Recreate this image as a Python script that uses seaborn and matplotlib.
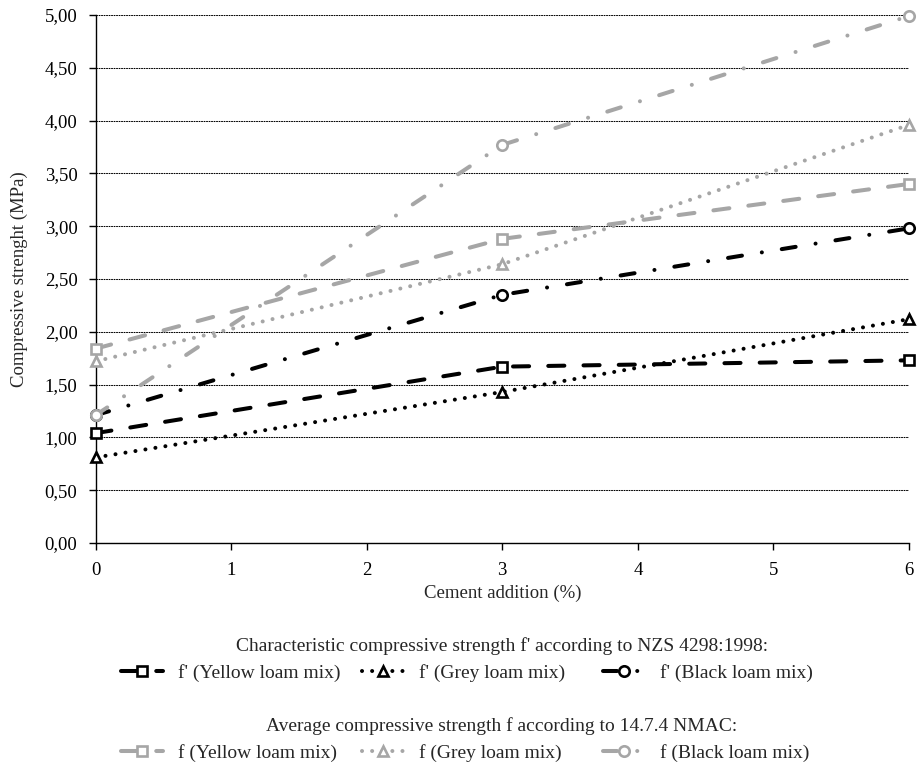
import matplotlib
matplotlib.use("Agg")
import matplotlib.pyplot as plt
from matplotlib.ticker import FuncFormatter, MultipleLocator
import seaborn as sns
import pandas as pd

# Cement content (%) and compressive strength (MPa)
cement = [0, 3, 6]

fk_yellow = [1.04, 1.67, 1.73]
fk_grey = [0.81, 1.43, 2.12]
fk_black = [1.21, 2.35, 2.98]

fa_yellow = [1.84, 2.88, 3.40]
fa_grey = [1.72, 2.64, 3.96]
fa_black = [1.21, 3.77, 4.99]

labels_k = ["f' (Yellow loam mix)", "f' (Grey loam mix)", "f' (Black loam mix)"]
labels_a = ["f (Yellow loam mix)", "f (Grey loam mix)", "f (Black loam mix)"]
title_k = "Characteristic compressive strength f' according to NZS 4298:1998:"
title_a = "Average compressive strength f according to 14.7.4 NMAC:"

sns.set_style("ticks")
plt.rcParams["font.family"] = ["Liberation Serif", "DejaVu Serif"]
plt.rcParams["lines.dash_capstyle"] = "round"
plt.rcParams["lines.solid_capstyle"] = "round"

W, H = 917, 778
fig = plt.figure(figsize=(W / 100, H / 100), dpi=100)
ax = fig.add_axes([95.5 / W, 1 - 543 / H, (909 - 95.5) / W, (543 - 15) / H])

GREY = "#a6a6a6"
BLACK = "#000000"
LW = 2.9

# line patterns in units of line width
DASH = (0, (4.0, 4.75))
DOT = (0, (0.01, 2.5))
DASHDOT = (0, (3.5, 5.0, 0.01, 5.0))

series = [
    (fk_black, BLACK, "o", DASHDOT, labels_k[2]),
    (fk_grey, BLACK, "^", DOT, labels_k[1]),
    (fk_yellow, BLACK, "s", DASH, labels_k[0]),
    (fa_black, GREY, "o", DASHDOT, labels_a[2]),
    (fa_grey, GREY, "^", DOT, labels_a[1]),
    (fa_yellow, GREY, "s", DASH, labels_a[0]),
]

handles = {}
for vals, col, mk, ls, lab in series:
    df = pd.DataFrame({"cement": cement, "strength": vals})
    n_before = len(ax.lines)
    sns.lineplot(data=df, x="cement", y="strength", ax=ax, color=col,
                 marker=mk, markersize=7.5, markerfacecolor="white",
                 markeredgecolor=col, markeredgewidth=1.9, linewidth=LW,
                 linestyle=ls, clip_on=False, zorder=3)
    handles[lab] = ax.lines[n_before]

ax.set_xlim(0, 6)
ax.set_ylim(0, 5)
ax.xaxis.set_major_locator(MultipleLocator(1))
ax.yaxis.set_major_locator(MultipleLocator(0.5))
ax.yaxis.set_major_formatter(FuncFormatter(lambda v, p: f"{v:.2f}".replace(".", ",")))
ax.yaxis.grid(True, linestyle=(0, (1.0, 1.4)), color="black", linewidth=0.75)
ax.set_axisbelow(True)
sns.despine(ax=ax)
for s in ("left", "bottom"):
    ax.spines[s].set_linewidth(1.0)
    ax.spines[s].set_color("black")
ax.tick_params(axis="both", direction="out", length=5, width=1.0, color="black",
               labelsize=13.5, labelcolor="black")
ax.tick_params(axis="y", pad=8)
ax.tick_params(axis="x", pad=9)

ax.set_xlabel("Cement addition (%)", fontsize=13.5, labelpad=4)
ax.set_ylabel("Compressive strenght (MPa)", fontsize=13.5, labelpad=12)

# Legend blocks below the chart
FS = 14
fig.text(502 / W, 1 - 646 / H, title_k, ha="center", va="center", fontsize=FS)
fig.text(502 / W, 1 - 726 / H, title_a, ha="center", va="center", fontsize=FS)

xs = [121, 362, 603]
for row_y, labs in ((673, labels_k), (753, labels_a)):
    for x, lab in zip(xs, labs):
        fig.legend(handles=[handles[lab]], labels=[lab], loc="center left",
                   bbox_to_anchor=(x / W, 1 - row_y / H), frameon=False,
                   borderpad=0, borderaxespad=0, handlelength=2.15,
                   handletextpad=0.8, fontsize=FS)

fig.savefig("out.png", dpi=100)
